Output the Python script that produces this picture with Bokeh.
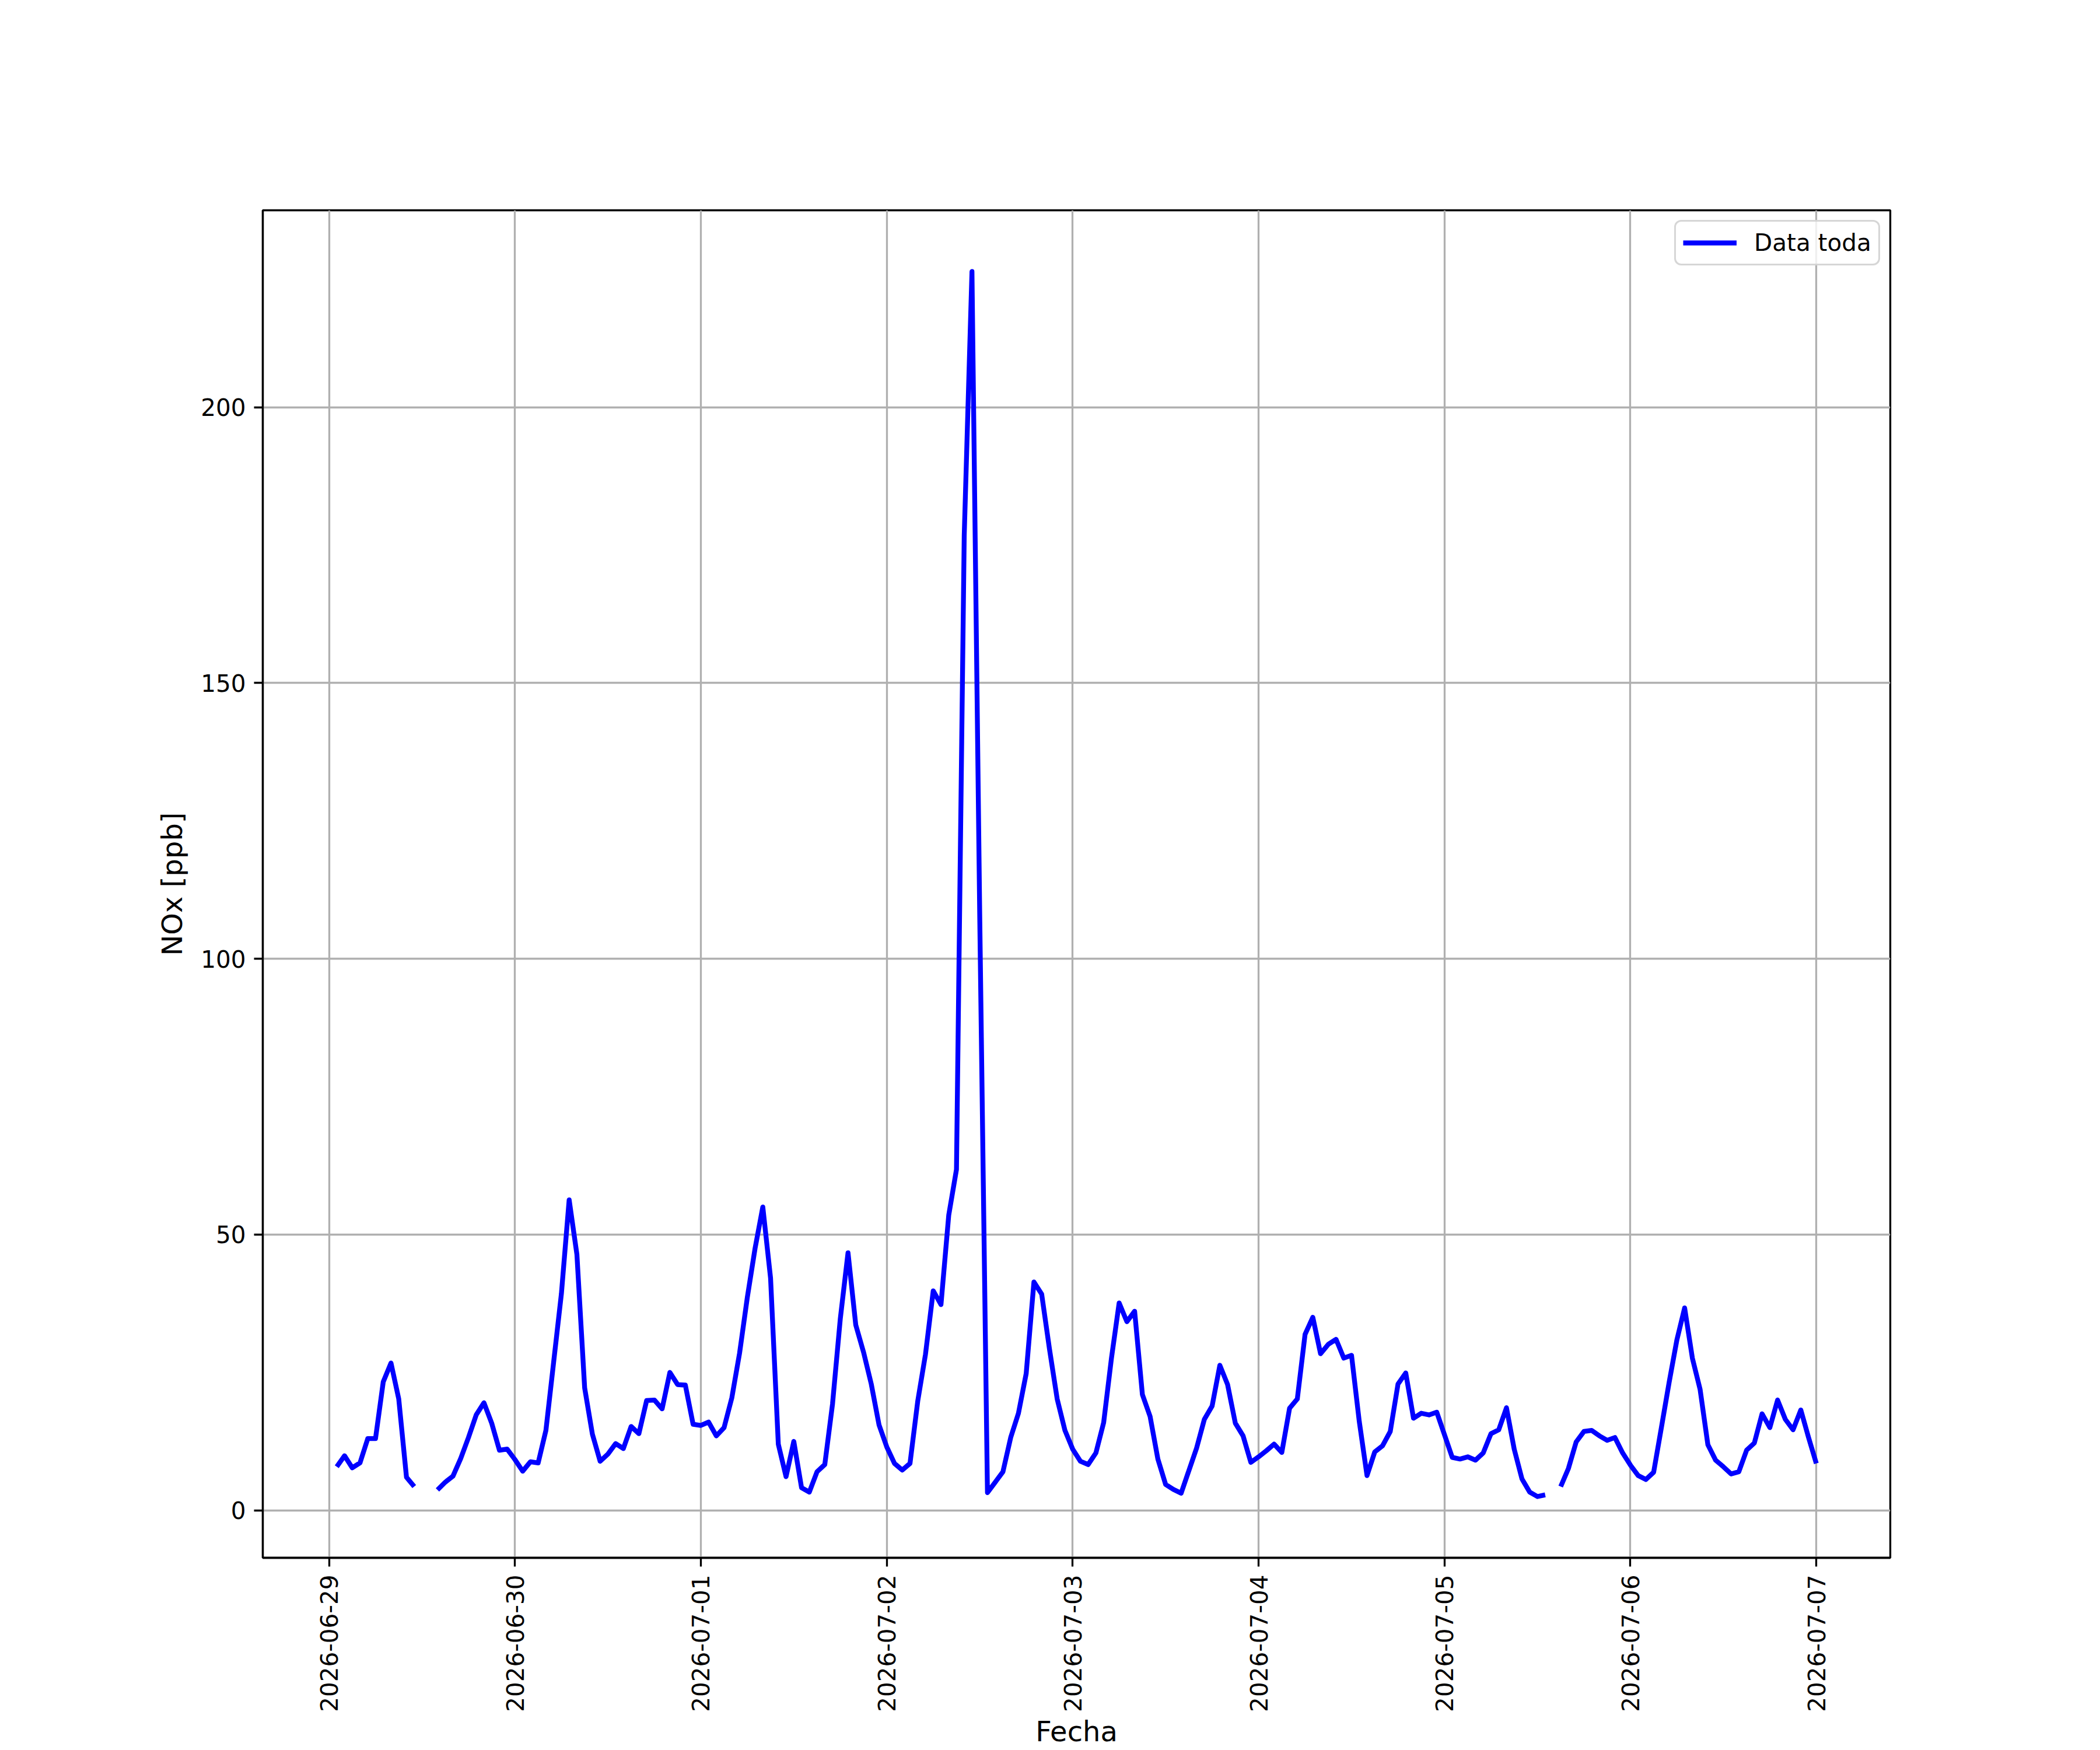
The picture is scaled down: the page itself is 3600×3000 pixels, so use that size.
import math
import pandas as pd
from bokeh.plotting import figure
from bokeh.models import Range1d, FixedTicker, DatetimeTickFormatter
from bokeh.embed import file_html
from bokeh.resources import INLINE

nan = float("nan")

# ---- data (hourly NOx, ppb) ----
first_hour = "2026-06-29 01:00"
nox_0629 = [7.9, 9.9, 7.7, 8.6, 13.0, 13.0, 23.3, 26.7, 20.2, 6.0, 4.3, nan, nan,
            3.7, 5.1, 6.2, 9.4, 13.2, 17.3, 19.5, 15.8, 10.9, 11.1]            # 01h..23h
nox_0630 = [9.2, 7.1, 8.8, 8.6, 14.5, 26.9, 39.3, 56.3, 46.4, 22.2, 13.8, 8.9,
            10.2, 12.1, 11.2, 15.2, 13.9, 19.9, 20.0, 18.4, 25.0, 22.8, 22.7, 15.6]
nox_0701 = [15.4, 16.0, 13.5, 15.0, 20.4, 28.5, 38.6, 47.5, 55.0, 42.1, 12.0, 6.1,
            12.5, 4.1, 3.3, 7.0, 8.3, 19.3, 34.7, 46.7, 33.6, 28.7, 22.9, 15.5]
nox_0702 = [11.5, 8.5, 7.3, 8.5, 19.8, 28.3, 39.8, 37.3, 53.5, 61.8, 176.7, 224.6,
            108.0, 3.2, 5.1, 7.0, 13.2, 17.6, 24.8, 41.4, 39.2, 29.3, 20.2, 14.5]
nox_0703 = [11.1, 8.9, 8.3, 10.4, 15.9, 27.5, 37.6, 34.2, 36.1, 21.0, 17.0, 9.3,
            4.7, 3.8, 3.1, 7.2, 11.3, 16.5, 18.9, 26.3, 22.8, 15.8, 13.5, 8.7]
nox_0704 = [9.7, 10.8, 12.0, 10.5, 18.5, 20.2, 31.9, 35.0, 28.4, 30.1, 31.0, 27.6,
            28.1, 16.1, 6.3, 10.6, 11.7, 14.3, 22.9, 24.9, 16.7, 17.6, 17.3, 17.8]
nox_0705 = [13.7, 9.6, 9.3, 9.7, 9.1, 10.4, 13.9, 14.6, 18.6, 11.1, 5.7, 3.3,
            2.5, 2.8, nan, 4.3, 7.6, 12.4, 14.3, 14.5, 13.5, 12.7, 13.2, 10.4]
nox_0706 = [8.2, 6.3, 5.6, 6.9, 15.0, 23.2, 30.9, 36.7, 27.6, 21.9, 11.9, 9.1,
            7.9, 6.6, 7.0, 10.9, 12.2, 17.5, 15.0, 20.0, 16.5, 14.6, 18.2, 13.2]
nox_0707 = [8.5]

tick_labels = ["2026-06-29", "2026-06-30", "2026-07-01", "2026-07-02", "2026-07-03",
               "2026-07-04", "2026-07-05", "2026-07-06", "2026-07-07"]
y_ticks = [0, 50, 100, 150, 200]
series_name = "Data toda"
x_title = "Fecha"
y_title = "NOx [ppb]"

values = (nox_0629 + nox_0630 + nox_0701 + nox_0702 + nox_0703 + nox_0704
          + nox_0705 + nox_0706 + nox_0707)
times = pd.date_range(first_hour, periods=len(values), freq="h")
t_ms = [t.value / 1e6 for t in times]

# ---- ranges with matplotlib-like 5% margins ----
x0, x1 = t_ms[0], t_ms[-1]
xpad = (x1 - x0) * 0.05
valid = [v for v in values if v == v]
y0, y1 = min(valid), max(valid)
ypad = (y1 - y0) * 0.05

FONT = "DejaVu Sans"
TICK_FS = "40.5px"
LABEL_FS = "48px"
W, H = 3600, 3000
BL, BR, BT, BB = 450, 360, 360, 330
FRAME_W = W - BL - BR
FRAME_H = H - BT - BB

p = figure(width=W, height=H, x_axis_type="datetime", output_backend="svg",
           toolbar_location=None,
           x_range=Range1d(x0 - xpad, x1 + xpad), y_range=Range1d(y0 - ypad, y1 + ypad),
           min_border_left=BL, min_border_right=BR, min_border_top=BT, min_border_bottom=BB)
p.background_fill_color = "white"
p.border_fill_color = "white"
p.outline_line_color = "black"
p.outline_line_width = 3.3

p.line(t_ms, values, line_color="#0000ff", line_width=8.3, line_join="round",
       legend_label=series_name)

# grid
p.grid.grid_line_color = "#b0b0b0"
p.grid.grid_line_width = 3.3

# axes
xa = p.xaxis[0]
ya = p.yaxis[0]
xa.ticker = FixedTicker(ticks=[pd.Timestamp(d).value / 1e6 for d in tick_labels])
fmt = "%Y-%m-%d"
xa.formatter = DatetimeTickFormatter(microseconds=fmt, milliseconds=fmt, seconds=fmt,
                                     minsec=fmt, minutes=fmt, hourmin=fmt, hours=fmt,
                                     days=fmt, months=fmt, years=fmt,
                                     boundary_scaling=False)
ya.ticker = FixedTicker(ticks=y_ticks)
for ax in (xa, ya):
    ax.major_label_text_font = FONT
    ax.major_label_text_font_size = TICK_FS
    ax.major_label_text_color = "black"
    ax.major_tick_out = 15
    ax.major_tick_in = 0
    ax.major_tick_line_width = 3.3
    ax.major_tick_line_color = "black"
    ax.minor_tick_line_color = None
    ax.axis_line_width = 3.3
    ax.axis_line_color = "black"
    ax.axis_label_text_font = FONT
    ax.axis_label_text_font_size = LABEL_FS
    ax.axis_label_text_font_style = "normal"
    ax.axis_label_text_color = "black"
xa.major_label_orientation = math.pi / 2
xa.major_label_standoff = 14
ya.major_label_standoff = 14

xa.axis_label = x_title
xa.axis_label_standoff = 2
ya.axis_label = y_title
ya.axis_label_standoff = 18

# legend (upper right; location = bottom-left corner of the box, frame px)
lg = p.legend[0]
LEG_W = 349
lg.location = (FRAME_W - 21 - LEG_W, 2215)
lg.margin = 0
lg.padding = 12
lg.spacing = 0
lg.glyph_width = 92
lg.glyph_height = 40
lg.label_height = 40
lg.label_standoff = 30
lg.label_text_font = FONT
lg.label_text_font_size = TICK_FS
lg.label_text_color = "black"
lg.border_line_color = "#cccccc"
lg.border_line_width = 3.3
lg.border_line_alpha = 0.8
lg.background_fill_alpha = 0.8
try:
    lg.border_radius = 12
except Exception:
    pass

open("out.html", "w").write(file_html(p, INLINE))
